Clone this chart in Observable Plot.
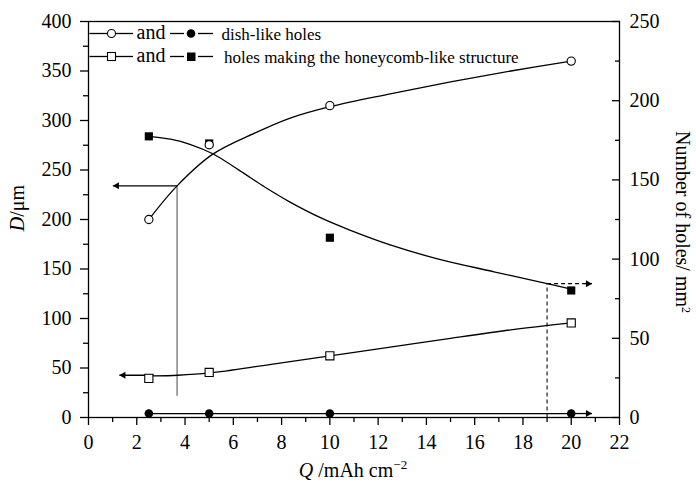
<!DOCTYPE html>
<html><head><meta charset="utf-8">
<script src="https://cdn.jsdelivr.net/npm/d3@7"></script>
<script src="https://cdn.jsdelivr.net/npm/@observablehq/plot@0.6"></script>
<style>
body{margin:0;background:#fff}
#chart{width:696px;height:491px}
#chart svg, #chart svg text{font-family:'Liberation Serif','Times New Roman',serif !important;}
</style>
</head><body><div id="chart"></div>
<script>
// measured points
const Q = [2.5, 5, 10, 20];
const dishDiameter = [200, 275.5, 315, 360];      // open circles, left axis (D/µm)
const honeyDiameter = [39.5, 45.5, 62.3, 95.5];   // open squares, left axis
const honeyNumber = [177.5, 173, 113.5, 80.2];    // filled squares, right axis (holes/mm2)
const dishNumber = [2.5, 2.5, 2.5, 2.5];          // filled circles, right axis

// fitted curves
const dishDiameterFitQ = [2.5, 3.67, 5.15, 6.95, 8.3, 10, 12.5, 15, 17.5, 20];
const dishDiameterFitV = [200, 234, 266, 288, 302, 314, 327, 339, 350, 360];
const honeyNumberFitQ = [2.5, 3.4, 4.2, 5.15, 6.25, 7.3, 8.35, 9.7, 10.8, 12.5, 14.5, 16.8, 19, 20];
const honeyNumberFitV = [177.5, 175.7, 172.5, 166.5, 156, 145.5, 136, 125.5, 118.5, 109, 100, 92, 84.5, 81];
const honeyDiameterFitQ = [2.7, 3.7, 5, 7.5, 10, 12.5, 15, 17.5, 20];
const honeyDiameterFitV = [42, 42.7, 45, 53.5, 62.3, 71, 80, 88.5, 95.5];

// annotation guides
const guideQ = [3.67];
const guideBottomD = [21.9];
const guideTopD = [234];
const leftArrowFromQ = [3.67, 2.7];
const leftArrowToQ = [1.01, 1.28];
const leftArrowD = [234, 42.7];
const dashGuideQ = [19];
const rightArrowFromQ = [19, 20];
const rightArrowToQ = [20.86, 20.86];
const rightArrowN = [84.5, 2.5];
const rightArrowDash = ["4,3", null];

// ticks
const xTicks = [0, 2, 4, 6, 8, 10, 12, 14, 16, 18, 20, 22];
const xMinor = [1, 3, 5, 7, 9, 11, 13, 15, 17, 19, 21];
const leftTicks = [0, 50, 100, 150, 200, 250, 300, 350, 400];
const leftMinor = [25, 75, 125, 175, 225, 275, 325, 375];
const rightTicks = [0, 50, 100, 150, 200, 250];
const rightMinor = [25, 75, 125, 175, 225];

const leftMax = 400, rightMax = 250;
const k = leftMax / rightMax;
const R = v => v * k;

const pts = (xs, ys, f = v => v) => xs.map((x, i) => ({x, y: f(ys[i])}));
const SW = 1.3;
const FF = "'Liberation Serif', 'Times New Roman', serif";

const leftArrows = leftArrowFromQ.map((q, i) => ({x1: q, x2: leftArrowToQ[i], y: leftArrowD[i]}));
const rightArrows = rightArrowFromQ.map((q, i) => ({x1: q, x2: rightArrowToQ[i], y: R(rightArrowN[i]), dash: rightArrowDash[i]}));

const svg = Plot.plot({
  width: 696, height: 491,
  marginLeft: 88, marginRight: 77, marginTop: 21, marginBottom: 74,
  style: {fontFamily: FF, fontSize: "20px", color: "black", background: "white"},
  x: {domain: [0, 22]},
  y: {domain: [0, leftMax]},
  marks: [
    Plot.axisX({ticks: xTicks, tickSize: 8, tickPadding: 9, label: null, strokeWidth: SW, fontFamily: FF, fontSize: 20}),
    Plot.axisX({ticks: xMinor, tickSize: 5, tickFormat: () => "", label: null, strokeWidth: SW}),
    Plot.axisY({ticks: leftTicks, tickSize: 8, tickPadding: 9, label: null, strokeWidth: SW, fontFamily: FF, fontSize: 20}),
    Plot.axisY({ticks: leftMinor, tickSize: 5, tickFormat: () => "", label: null, strokeWidth: SW}),
    Plot.axisY({anchor: "right", ticks: rightTicks.map(R), tickFormat: d => String(Math.round(d / k)), tickSize: -8, tickPadding: 18, label: null, strokeWidth: SW, fontFamily: FF, fontSize: 20}),
    Plot.axisY({anchor: "right", ticks: rightMinor.map(R), tickFormat: () => "", tickSize: -5, label: null, strokeWidth: SW}),

    // guides
    Plot.link(guideQ.map((q, i) => ({q, a: guideBottomD[i], b: guideTopD[i]})), {x1: "q", x2: "q", y1: "a", y2: "b", stroke: "#707070", strokeWidth: SW}),
    Plot.link(dashGuideQ.map(q => ({q})), {x1: "q", x2: "q", y1: () => 0, y2: () => R(rightArrowN[0]), stroke: "#333", strokeWidth: SW, strokeDasharray: "4,3"}),
    Plot.link(leftArrows, {x1: "x1", x2: "x2", y1: "y", y2: "y", stroke: "black", strokeWidth: SW}),
    Plot.dot(leftArrows, {x: "x2", y: "y", symbol: "triangle", r: 2.6, rotate: -90, dx: 4, fill: "black", stroke: null}),
    Plot.link(rightArrows.filter(d => d.dash), {x1: "x1", x2: "x2", y1: "y", y2: "y", stroke: "black", strokeWidth: SW, strokeDasharray: "4,3"}),
    Plot.link(rightArrows.filter(d => !d.dash), {x1: "x1", x2: "x2", y1: "y", y2: "y", stroke: "black", strokeWidth: SW}),
    Plot.dot(rightArrows, {x: "x2", y: "y", symbol: "triangle", r: 2.6, rotate: 90, dx: -4, fill: "black", stroke: null}),

    // fitted curves
    Plot.line(pts(dishDiameterFitQ, dishDiameterFitV), {x: "x", y: "y", curve: "catmull-rom", stroke: "black", strokeWidth: SW}),
    Plot.line(pts(honeyNumberFitQ, honeyNumberFitV, R), {x: "x", y: "y", curve: "catmull-rom", stroke: "black", strokeWidth: SW}),
    Plot.line(pts(honeyDiameterFitQ, honeyDiameterFitV), {x: "x", y: "y", curve: "catmull-rom", stroke: "black", strokeWidth: SW}),
    Plot.line(pts(Q, dishNumber, R), {x: "x", y: "y", stroke: "black", strokeWidth: SW}),

    // points
    Plot.dot(pts(Q, honeyNumber, R), {x: "x", y: "y", symbol: "square", r: 4.6, fill: "black", stroke: null}),
    Plot.dot(pts(Q, dishNumber, R), {x: "x", y: "y", symbol: "circle", r: 4.3, fill: "black", stroke: null}),
    Plot.dot(pts(Q, honeyDiameter), {x: "x", y: "y", symbol: "square", r: 4.6, fill: "white", stroke: "black", strokeWidth: 1.1}),
    Plot.dot(pts(Q, dishDiameter), {x: "x", y: "y", symbol: "circle", r: 4.1, fill: "white", stroke: "black", strokeWidth: 1.1}),

    Plot.frame({stroke: "black", strokeWidth: SW})
  ]
});

const s = d3.select(svg);

// axis titles
const lt = s.append("text").attr("transform", "translate(24,208) rotate(-90)").attr("text-anchor", "middle")
  .attr("font-family", FF).attr("font-size", 20).attr("fill", "black");
lt.append("tspan").attr("font-style", "italic").text("D");
lt.append("tspan").text("/μm");

const bt = s.append("text").attr("x", 353).attr("y", 477).attr("text-anchor", "middle")
  .attr("font-family", FF).attr("font-size", 20).attr("fill", "black");
bt.append("tspan").attr("font-style", "italic").text("Q");
bt.append("tspan").text(" /mAh cm");
bt.append("tspan").attr("font-size", 13).attr("dy", -8).text("−2");

const rt = s.append("text").attr("transform", "translate(676,222) rotate(90)").attr("text-anchor", "middle")
  .attr("font-family", FF).attr("font-size", 20).attr("fill", "black");
rt.append("tspan").text("Number of holes/ mm");
rt.append("tspan").attr("font-size", 12).attr("dy", -6).text("2");

// legend
const legendRows = [
  {y: 33.5, open: "circle", text: "dish-like holes", tx: 221.5},
  {y: 56.5, open: "square", text: "holes making the honeycomb-like structure", tx: 224}
];
const lg = s.append("g").attr("text-anchor", "start");
for (const row of legendRows) {
  const seg = (a, b) => lg.append("line").attr("x1", a).attr("x2", b).attr("y1", row.y).attr("y2", row.y).attr("stroke", "black").attr("stroke-width", SW);
  seg(89.5, 107); seg(116, 133); seg(170, 184); seg(198, 213);
  if (row.open === "circle") {
    lg.append("circle").attr("cx", 111.5).attr("cy", row.y).attr("r", 4).attr("fill", "white").attr("stroke", "black").attr("stroke-width", 1.1);
    lg.append("circle").attr("cx", 191).attr("cy", row.y).attr("r", 4.3).attr("fill", "black");
  } else {
    lg.append("rect").attr("x", 107.5).attr("y", row.y - 4).attr("width", 8).attr("height", 8).attr("fill", "white").attr("stroke", "black").attr("stroke-width", 1.1);
    lg.append("rect").attr("x", 187).attr("y", row.y - 4).attr("width", 8.5).attr("height", 8.5).attr("fill", "black");
  }
  lg.append("text").attr("x", 136.5).attr("y", row.y + 5.5).attr("text-anchor", "start").attr("font-family", FF).attr("font-size", 20).attr("fill", "black").text("and");
  lg.append("text").attr("x", row.tx).attr("y", row.y + 6.5).attr("text-anchor", "start").attr("font-family", FF).attr("font-size", 17).attr("fill", "black").text(row.text);
}

document.getElementById("chart").appendChild(svg);
</script>
</body></html>
